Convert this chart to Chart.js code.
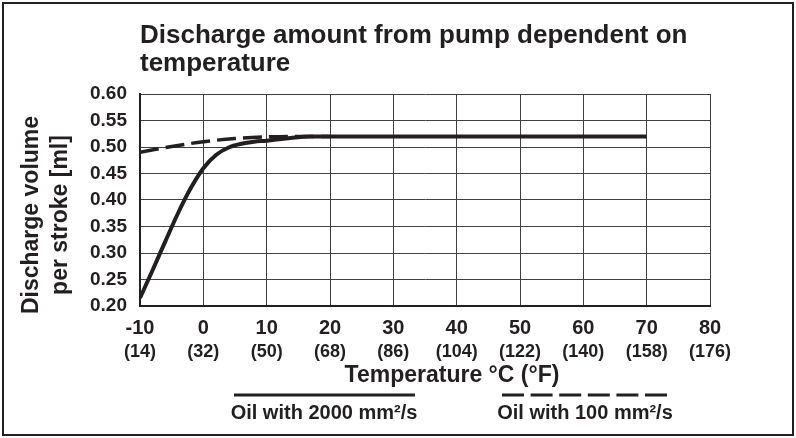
<!DOCTYPE html>
<html>
<head>
<meta charset="utf-8">
<title>Discharge amount from pump</title>
<script src="https://cdn.jsdelivr.net/npm/chart.js@4/dist/chart.umd.min.js"></script>
<style>
  html, body { margin: 0; padding: 0; background: #fff; }
  canvas { display: block; }
</style>
</head>
<body>
<canvas id="chart" width="796" height="438"></canvas>
<script>
// ================= DATA =================
const tempCLabels = ["-10", "0", "10", "20", "30", "40", "50", "60", "70", "80"];
const tempFLabels = ["(14)", "(32)", "(50)", "(68)", "(86)", "(104)", "(122)", "(140)", "(158)", "(176)"];
const volumeLabels = ["0.20", "0.25", "0.30", "0.35", "0.40", "0.45", "0.50", "0.55", "0.60"];

// oil with 2000 mm²/s (solid)
const oil2000Temp = [-10, -8, -6, -4, -2, 0, 2, 4, 6, 8, 10, 13, 17, 20, 70];
const oil2000Volume = [0.215, 0.268, 0.322, 0.375, 0.422, 0.46, 0.485, 0.499, 0.506, 0.51, 0.512, 0.516, 0.52, 0.52, 0.52];

// oil with 100 mm²/s (dashed)
const oil100Temp = [-10, -5, 0, 5, 10, 15, 20];
const oil100Volume = [0.49, 0.501, 0.51, 0.516, 0.519, 0.52, 0.52];

const titleLines = ["Discharge amount from pump dependent on", "temperature"];
const yTitleLines = ["Discharge volume", "per stroke [ml]"];
const xTitle = "Temperature °C (°F)";

// ================= STYLE =================
const INK = "#231f20";
const GRID = "#404040";
const FONT = "'Liberation Sans', Arial, sans-serif";

function toPoints(xs, ys) {
  return xs.map((x, i) => ({ x: x, y: ys[i] }));
}

// axis titles, legend and outer frame
const extras = {
  id: "extras",
  beforeDraw(chart) {
    const c = chart.ctx;
    c.save();
    c.fillStyle = "#fff";
    c.fillRect(0, 0, chart.width, chart.height);
    c.restore();
  },
  afterDraw(chart) {
    const c = chart.ctx;
    c.save();
    c.fillStyle = INK;
    c.strokeStyle = INK;

    // y title, rotated
    c.font = "bold 23px " + FONT;
    c.textAlign = "center";
    c.textBaseline = "alphabetic";
    c.save();
    c.translate(38, 215);
    c.rotate(-Math.PI / 2);
    c.fillText(yTitleLines[0], 0, 0);
    c.fillText(yTitleLines[1], 0, 29);
    c.restore();

    // x title
    c.fillText(xTitle, 452, 382);

    // legend: sample line above each label
    const slots = [
      { x1: 234, x2: 415, cx: 324 },
      { x1: 502, x2: 667, cx: 585 }
    ];
    chart.data.datasets.forEach((ds, i) => {
      const s = slots[i];
      c.beginPath();
      c.lineWidth = 3;
      c.setLineDash(i === 1 ? [22, 6.6] : []);
      c.moveTo(s.x1, 395);
      c.lineTo(s.x2, 395);
      c.stroke();
      c.setLineDash([]);
      c.font = "bold 20px " + FONT;
      c.fillText(ds.label, s.cx, 419);
    });

    // frame
    c.lineWidth = 2;
    c.strokeRect(3, 3, 790, 432);
    c.restore();
  }
};

const ctx = document.getElementById("chart").getContext("2d");

new Chart(ctx, {
  type: "line",
  data: {
    datasets: [
      {
        label: "Oil with 2000 mm²/s",
        data: toPoints(oil2000Temp, oil2000Volume),
        borderColor: INK,
        borderWidth: 4,
        pointRadius: 0,
        cubicInterpolationMode: "monotone"
      },
      {
        label: "Oil with 100 mm²/s",
        data: toPoints(oil100Temp, oil100Volume),
        borderColor: INK,
        borderWidth: 3.5,
        borderDash: [19, 7],
        pointRadius: 0,
        cubicInterpolationMode: "monotone"
      }
    ]
  },
  options: {
    responsive: false,
    animation: false,
    layout: { padding: { top: 0, right: 86, bottom: 74, left: 0 } },
    plugins: {
      legend: { display: false },
      tooltip: { enabled: false },
      title: {
        display: true,
        text: titleLines,
        align: "start",
        fullSize: false,
        color: INK,
        font: { family: FONT, size: 26, weight: "bold", lineHeight: 28 / 26 },
        padding: { top: 22, bottom: 16 }
      }
    },
    scales: {
      x: {
        type: "linear",
        position: "bottom",
        min: -10,
        max: 80,
        ticks: {
          stepSize: 10,
          padding: 10,
          maxRotation: 0,
          autoSkip: false,
          color: INK,
          font: { family: FONT, size: 20, weight: "bold" },
          callback: (v, i) => tempCLabels[i]
        },
        grid: { color: GRID, lineWidth: 1, drawTicks: false },
        border: { color: INK, width: 2 },
        afterFit: (s) => { s.height = 34; }
      },
      xF: {
        type: "linear",
        position: "bottom",
        min: -10,
        max: 80,
        ticks: {
          stepSize: 10,
          padding: 1,
          maxRotation: 0,
          autoSkip: false,
          color: INK,
          font: { family: FONT, size: 18, weight: "bold" },
          callback: (v, i) => tempFLabels[i]
        },
        grid: { display: false, drawTicks: false },
        border: { display: false },
        afterFit: (s) => { s.height = 24; }
      },
      y: {
        min: 0.2,
        max: 0.6,
        ticks: {
          stepSize: 0.05,
          padding: 13,
          color: INK,
          font: { family: FONT, size: 19, weight: "bold" },
          callback: (v, i) => volumeLabels[i]
        },
        grid: { color: GRID, lineWidth: 1, drawTicks: false },
        border: { color: INK, width: 2 },
        afterFit: (s) => { s.width = 140; }
      }
    }
  },
  plugins: [extras]
});
</script>
</body>
</html>
